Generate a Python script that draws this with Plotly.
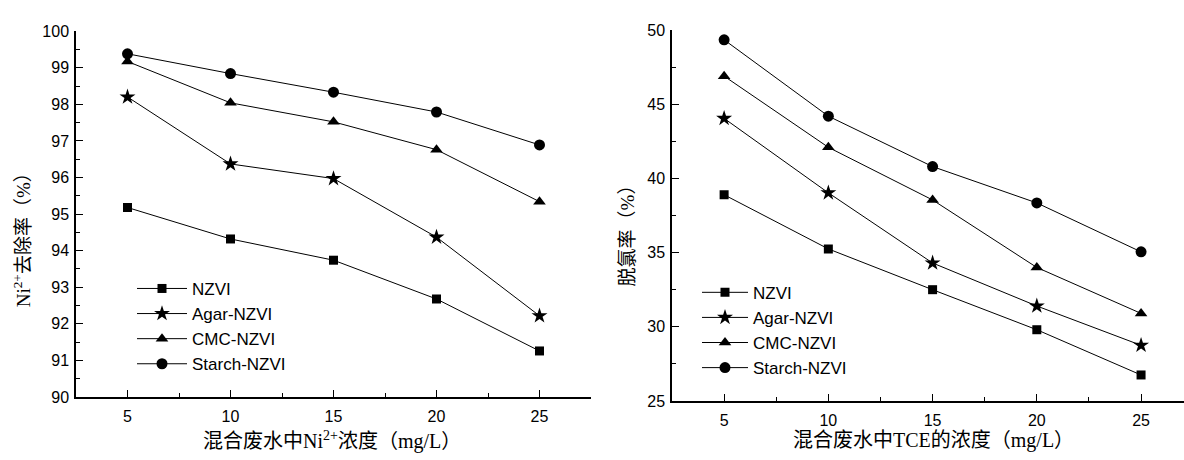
import plotly.graph_objects as go

x_conc = [5, 10, 15, 20, 25]
series_names = ["NZVI", "Agar-NZVI", "CMC-NZVI", "Starch-NZVI"]

# Left: Ni2+ removal (%)
ni_nzvi = [95.18, 94.32, 93.74, 92.68, 91.26]
ni_agar = [98.20, 96.37, 95.97, 94.37, 92.22]
ni_cmc = [99.17, 98.04, 97.52, 96.76, 95.34]
ni_starch = [99.38, 98.84, 98.33, 97.79, 96.89]

# Right: dechlorination (%)
tce_nzvi = [38.9, 35.25, 32.5, 29.8, 26.75]
tce_agar = [44.05, 39.03, 34.3, 31.4, 28.75]
tce_cmc = [46.9, 42.1, 38.55, 34.0, 30.9]
tce_starch = [49.35, 44.2, 40.8, 38.35, 35.05]

y_ticks_left = [90, 91, 92, 93, 94, 95, 96, 97, 98, 99, 100]
y_ticks_right = [25, 30, 35, 40, 45, 50]
x_ticks = [5, 10, 15, 20, 25]

symbols = ["square", "star", "triangle-up", "circle"]
sizes = [9, 12, 11, 11]

fig = go.Figure()

left_data = [ni_nzvi, ni_agar, ni_cmc, ni_starch]
right_data = [tce_nzvi, tce_agar, tce_cmc, tce_starch]

for name, ys, sym, sz in zip(series_names, left_data, symbols, sizes):
    fig.add_trace(go.Scatter(
        x=x_conc, y=ys, name=name, mode="lines+markers",
        line=dict(color="black", width=1),
        marker=dict(symbol=sym, size=sz, color="black"),
        xaxis="x", yaxis="y", legend="legend",
    ))

for name, ys, sym, sz in zip(series_names, right_data, symbols, sizes):
    fig.add_trace(go.Scatter(
        x=x_conc, y=ys, name=name, mode="lines+markers",
        line=dict(color="black", width=1),
        marker=dict(symbol=sym, size=sz, color="black"),
        xaxis="x2", yaxis="y2", legend="legend2",
    ))

W, H = 1184, 460
tickfont = dict(family="Liberation Sans, Arial, sans-serif", size=16, color="black")
common_axis = dict(
    showline=True, linecolor="black", linewidth=1.5,
    showgrid=False, zeroline=False,
    ticks="inside", ticklen=7, tickwidth=1.3, tickcolor="black",
    tickfont=tickfont,
)
minor_common = dict(ticks="inside", ticklen=4, tickcolor="black", tickwidth=1.2)
legend_font = dict(family="Liberation Sans, Arial, sans-serif", size=17, color="black")

fig.update_layout(
    width=W, height=H,
    margin=dict(l=0, r=0, t=0, b=0),
    paper_bgcolor="white", plot_bgcolor="white",
    showlegend=True,
    xaxis=dict(domain=[76 / W, 591 / W], range=[2.5, 27.5], tickvals=x_ticks,
               minor=dict(dtick=2.5, tick0=2.5, **minor_common), ticklabelstandoff=4,
               anchor="y", **common_axis),
    yaxis=dict(domain=[(H - 404) / H, (H - 24) / H], range=[90, 100], tickvals=y_ticks_left,
               minor=dict(dtick=0.5, tick0=90, **minor_common), ticklabelstandoff=2,
               anchor="x", **common_axis),
    xaxis2=dict(domain=[672 / W, 1.0], range=[2.5, 27.06], tickvals=x_ticks,
                minor=dict(dtick=2.5, tick0=2.5, **minor_common), ticklabelstandoff=4,
                anchor="y2", **common_axis),
    yaxis2=dict(domain=[(H - 408) / H, (H - 23) / H], range=[25, 50], tickvals=y_ticks_right,
                minor=dict(dtick=2.5, tick0=25, **minor_common), ticklabelstandoff=2,
                anchor="x2", **common_axis),
    legend=dict(x=132 / W, y=(H - 273) / H, xanchor="left", yanchor="top",
                bgcolor="rgba(0,0,0,0)", tracegroupgap=0, itemwidth=50,
                font=legend_font),
    legend2=dict(x=697 / W, y=(H - 277) / H, xanchor="left", yanchor="top",
                 bgcolor="rgba(0,0,0,0)", tracegroupgap=0, itemwidth=46,
                 font=legend_font),
)

title_font = dict(family="Liberation Serif, Noto Sans CJK SC, serif", size=20, color="black")
ytitle_font = dict(family="Liberation Serif, Noto Sans CJK SC, serif", size=19, color="black")
fig.add_annotation(text="混合废水中Ni<sup>2+</sup>浓度（mg/L）", x=332 / W, y=(H - 449) / H,
                   xref="paper", yref="paper", showarrow=False, font=title_font,
                   xanchor="center", yanchor="middle")
fig.add_annotation(text="混合废水中TCE的浓度（mg/L）", x=933 / W, y=(H - 449) / H,
                   xref="paper", yref="paper", showarrow=False, font=title_font,
                   xanchor="center", yanchor="middle")
fig.add_annotation(text="Ni<sup>2+</sup>去除率（%）", x=22 / W, y=(H - 236) / H,
                   xref="paper", yref="paper", showarrow=False, font=ytitle_font,
                   textangle=-90, xanchor="center", yanchor="middle")
fig.add_annotation(text="脱氯率（%）", x=627 / W, y=(H - 232) / H,
                   xref="paper", yref="paper", showarrow=False, font=ytitle_font,
                   textangle=-90, xanchor="center", yanchor="middle")

fig.write_html("out.html")
